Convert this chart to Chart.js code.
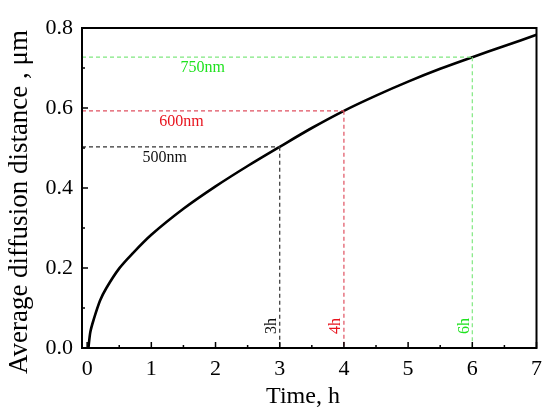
<!DOCTYPE html>
<html>
<head>
<meta charset="utf-8">
<script src="https://cdn.jsdelivr.net/npm/chart.js@4"></script>
<style>
  html, body { margin: 0; padding: 0; background: #fff; }
  #wrap { width: 550px; height: 416px; }
</style>
</head>
<body>
<div id="wrap"><canvas id="myChart"></canvas></div>
<script>
// curve
var timeH = [0.02, 0.05, 0.1, 0.2, 0.3, 0.5, 0.7, 1, 1.5, 2, 2.5, 3, 3.5, 4, 4.5, 5, 5.5, 6, 6.5, 7];
var distUm = [0, 0.04, 0.07, 0.118, 0.15, 0.199, 0.235, 0.283, 0.348, 0.404, 0.455, 0.503, 0.55, 0.593, 0.631, 0.666, 0.698, 0.727, 0.755, 0.783];

// guide lines
var refTimes = [3, 4, 6];
var refDist = [0.503, 0.593, 0.727];
var refNm = ["500nm", "600nm", "750nm"];
var refHours = ["3h", "4h", "6h"];
var refText = ["#111111", "#e8141e", "#1fe21f"];
var refLine = ["#333333", "#e05060", "#80e880"];
var nmLabelX = [1.21, 1.47, 1.8];

var yTicks = [0, 0.2, 0.4, 0.6, 0.8];

const serif = "'Liberation Serif', 'DejaVu Serif', serif";

const framePlugin = {
  id: "frame",
  afterDatasetsDraw(chart) {
    const ctx = chart.ctx, a = chart.chartArea;
    const xs = chart.scales.x, ys = chart.scales.y;
    ctx.save();

    // dashed guides
    ctx.lineWidth = 1.2;
    ctx.setLineDash([4, 3]);
    for (let i = 0; i < refTimes.length; i++) {
      const px = xs.getPixelForValue(refTimes[i]);
      const py = ys.getPixelForValue(refDist[i]);
      ctx.strokeStyle = refLine[i];
      ctx.beginPath();
      ctx.moveTo(a.left, py);
      ctx.lineTo(px, py);
      ctx.moveTo(px, py);
      ctx.lineTo(px, a.bottom);
      ctx.stroke();
    }
    ctx.setLineDash([]);

    // guide labels
    ctx.font = "16px " + serif;
    ctx.textAlign = "center";
    ctx.textBaseline = "middle";
    for (let i = 0; i < refTimes.length; i++) {
      ctx.fillStyle = refText[i];
      const py = ys.getPixelForValue(refDist[i]);
      ctx.fillText(refNm[i], xs.getPixelForValue(nmLabelX[i]), py + 11);
      const px = xs.getPixelForValue(refTimes[i]);
      ctx.save();
      ctx.translate(px - 8, a.bottom - 22);
      ctx.rotate(-Math.PI / 2);
      ctx.fillText(refHours[i], 0, 0);
      ctx.restore();
    }

    // frame
    ctx.strokeStyle = "#000";
    ctx.lineWidth = 2;
    ctx.strokeRect(a.left, a.top, a.right - a.left, a.bottom - a.top);

    // inward ticks
    ctx.lineWidth = 1.5;
    ctx.beginPath();
    for (let v = 0; v <= 7; v += 0.5) {
      const px = xs.getPixelForValue(v);
      const len = Number.isInteger(v) ? 6 : 3;
      ctx.moveTo(px, a.bottom);
      ctx.lineTo(px, a.bottom - len);
    }
    for (let k = 0; k <= 8; k++) {
      const py = ys.getPixelForValue(k / 10);
      const len = k % 2 === 0 ? 6 : 3;
      ctx.moveTo(a.left, py);
      ctx.lineTo(a.left + len, py);
    }
    ctx.stroke();

    // axis titles
    ctx.fillStyle = "#000";
    ctx.font = "24px " + serif;
    ctx.textAlign = "center";
    ctx.textBaseline = "middle";
    ctx.fillText("Time, h", 303, 397);
    ctx.save();
    ctx.translate(20, 202);
    ctx.rotate(-Math.PI / 2);
    ctx.font = "27px " + serif;
    ctx.fillText("Average diffusion distance , \u03bcm", 0, 0);
    ctx.restore();

    ctx.restore();
  }
};

new Chart("myChart", {
  type: "line",
  data: {
    datasets: [{
      data: timeH.map((t, i) => ({ x: t, y: distUm[i] })),
      borderColor: "#000",
      borderWidth: 2.6,
      pointRadius: 0,
      fill: false,
      tension: 0.3
    }]
  },
  options: {
    responsive: true,
    maintainAspectRatio: false,
    animation: false,
    layout: { padding: { top: 28, right: 11, left: 0, bottom: 0 } },
    plugins: { legend: { display: false }, tooltip: { enabled: false } },
    scales: {
      x: {
        type: "linear",
        min: -0.08,
        max: 7,
        grid: { display: false, drawTicks: false },
        border: { display: false },
        ticks: {
          stepSize: 1,
          includeBounds: false,
          padding: 8,
          color: "#000",
          font: { family: serif, size: 22 },
          maxRotation: 0
        },
        afterFit(s) { s.height = 68; }
      },
      y: {
        type: "linear",
        min: 0,
        max: 0.8,
        grid: { display: false, drawTicks: false },
        border: { display: false },
        afterBuildTicks(s) { s.ticks = yTicks.map(v => ({ value: v })); },
        ticks: {
          padding: 9,
          color: "#000",
          font: { family: serif, size: 22 },
          callback: v => v.toFixed(1)
        },
        afterFit(s) { s.width = 82; }
      }
    }
  },
  plugins: [framePlugin]
});
</script>
</body>
</html>
